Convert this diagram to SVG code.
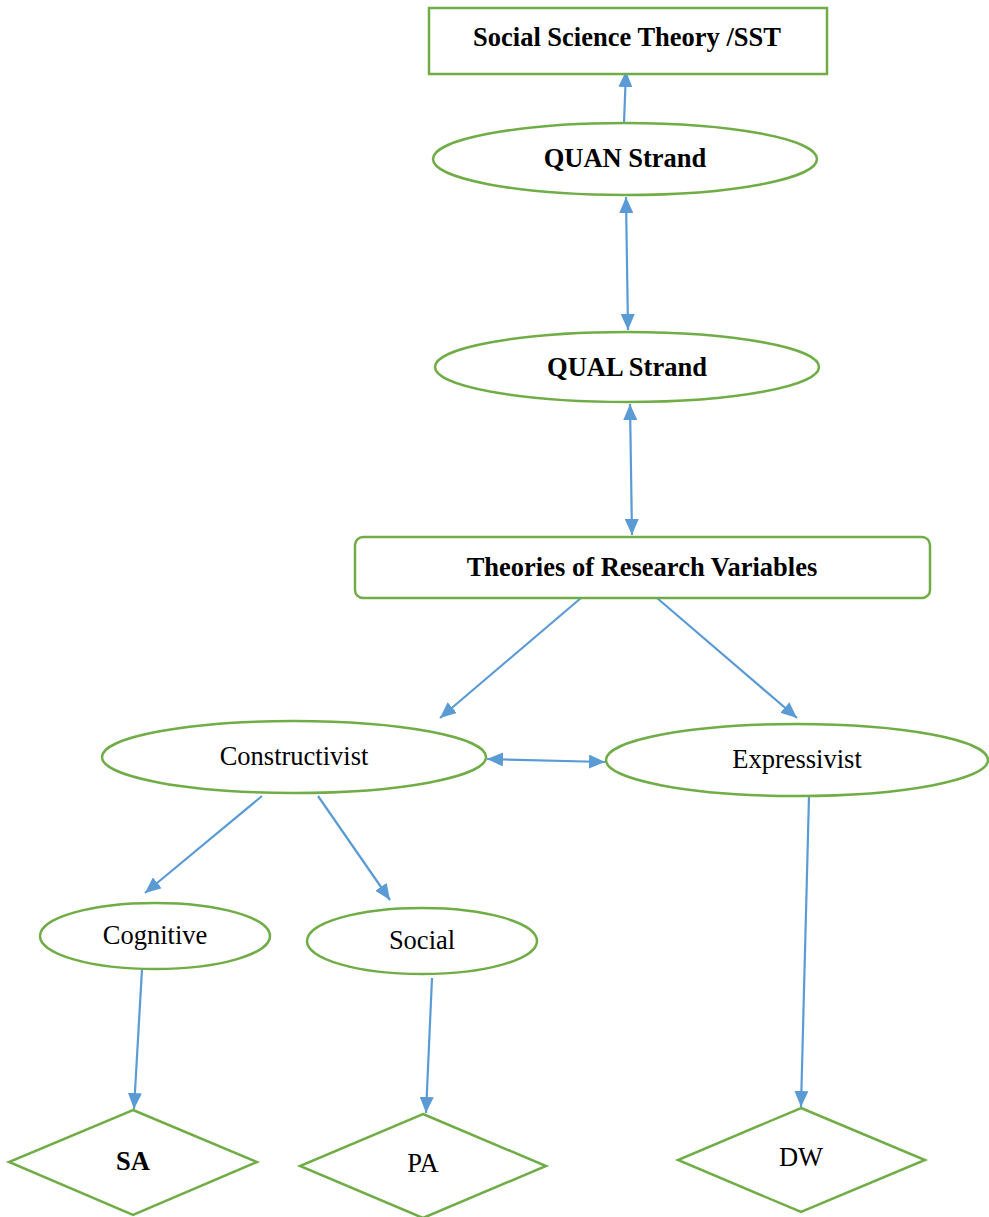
<svg xmlns="http://www.w3.org/2000/svg" width="989" height="1217" viewBox="0 0 989 1217">
<style>
.n{fill:#fff;stroke:#70AD47;stroke-width:2.5}
.t{font-family:"Liberation Serif","Times New Roman",serif;font-size:26.5px;fill:#000;text-anchor:middle}
.b{font-weight:bold}
.c{stroke:#5B9BD5;stroke-width:2.2;fill:none}
</style>
<defs>
<marker id="ah" viewBox="0 0 16 14" refX="16" refY="7" markerWidth="16" markerHeight="14" markerUnits="userSpaceOnUse" orient="auto-start-reverse">
<path d="M0,0 L16,7 L0,14 z" fill="#5B9BD5"/>
</marker>
</defs>
<rect width="989" height="1217" fill="#fff"/>
<g id="connectors">
<line class="c" x1="624" y1="123" x2="626" y2="71" marker-end="url(#ah)"/>
<line class="c" x1="626" y1="197" x2="628" y2="330" marker-start="url(#ah)" marker-end="url(#ah)"/>
<line class="c" x1="630" y1="404" x2="632" y2="535" marker-start="url(#ah)" marker-end="url(#ah)"/>
<line class="c" x1="581" y1="598" x2="440" y2="718" marker-end="url(#ah)"/>
<line class="c" x1="657" y1="598" x2="797" y2="718" marker-end="url(#ah)"/>
<line class="c" x1="487" y1="759" x2="605" y2="762" marker-start="url(#ah)" marker-end="url(#ah)"/>
<line class="c" x1="262" y1="796" x2="145" y2="893" marker-end="url(#ah)"/>
<line class="c" x1="318" y1="796" x2="390" y2="900" marker-end="url(#ah)"/>
<line class="c" x1="142" y1="969" x2="134" y2="1109" marker-end="url(#ah)"/>
<line class="c" x1="432" y1="978" x2="426" y2="1113" marker-end="url(#ah)"/>
<line class="c" x1="809" y1="796" x2="801" y2="1107" marker-end="url(#ah)"/>
</g>
<g id="sst">
<rect class="n" x="429" y="8" width="398" height="66"/>
<text class="t b" x="627" y="46">Social Science Theory /SST</text>
</g>
<g id="quan">
<ellipse class="n" cx="625" cy="159" rx="192" ry="36"/>
<text class="t b" x="625" y="167">QUAN Strand</text>
</g>
<g id="qual">
<ellipse class="n" cx="627" cy="367" rx="192" ry="35"/>
<text class="t b" x="627" y="376">QUAL Strand</text>
</g>
<g id="theories">
<rect class="n" x="355" y="537" width="575" height="61" rx="8"/>
<text class="t b" x="642" y="576">Theories of Research Variables</text>
</g>
<g id="constructivist">
<ellipse class="n" cx="294" cy="757" rx="192" ry="36"/>
<text class="t" x="294" y="765">Constructivist</text>
</g>
<g id="expressivist">
<ellipse class="n" cx="797" cy="760" rx="191" ry="36"/>
<text class="t" x="797" y="768">Expressivist</text>
</g>
<g id="cognitive">
<ellipse class="n" cx="155" cy="936" rx="115" ry="33"/>
<text class="t" x="155" y="944">Cognitive</text>
</g>
<g id="social">
<ellipse class="n" cx="422" cy="941" rx="115" ry="33"/>
<text class="t" x="422" y="949">Social</text>
</g>
<g id="sa">
<polygon class="n" points="133,1110 257,1162 133,1215 9,1162"/>
<text class="t b" x="133" y="1170">SA</text>
</g>
<g id="pa">
<polygon class="n" points="423,1114 546,1166 423,1218 300,1166"/>
<text class="t" x="423" y="1172">PA</text>
</g>
<g id="dw">
<polygon class="n" points="801,1108 925,1160 801,1212 678,1160"/>
<text class="t" x="801" y="1166">DW</text>
</g>
</svg>
